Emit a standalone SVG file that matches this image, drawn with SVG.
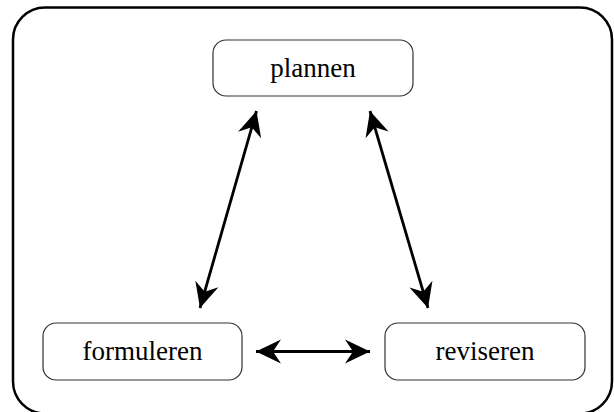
<svg xmlns="http://www.w3.org/2000/svg" width="614" height="412" viewBox="0 0 614 412">
<style>
.node rect{fill:#fff;stroke:#333;stroke-width:1.2}
.node text{font-family:"Liberation Serif","Times New Roman",serif;font-size:27px;fill:#000;text-anchor:middle}
.conn line{stroke:#000;stroke-width:2.8;marker-start:url(#ah);marker-end:url(#ah)}
</style>
<defs>
<marker id="ah" viewBox="-27 -13 29 26" refX="0" refY="0" markerWidth="29" markerHeight="26" markerUnits="userSpaceOnUse" orient="auto-start-reverse">
<path d="M0,0 L-25,-12 L-17,0 L-25,12 Z" fill="#000"/>
</marker>
</defs>
<rect id="frame" x="13" y="7.5" width="599" height="406" rx="32" ry="32" fill="none" stroke="#000" stroke-width="2.5"/>
<g id="plannen" class="node"><rect x="213" y="40" width="200" height="56" rx="13"/><text x="313" y="77">plannen</text></g>
<g id="formuleren" class="node"><rect x="43" y="323" width="199" height="57" rx="13"/><text x="142.5" y="360">formuleren</text></g>
<g id="reviseren" class="node"><rect x="385" y="323" width="200" height="57" rx="13"/><text x="485" y="360">reviseren</text></g>
<g id="connectors" class="conn">
<line x1="256.5" y1="111" x2="200" y2="308"/>
<line x1="370" y1="111" x2="428" y2="308"/>
<line x1="256" y1="351.5" x2="370" y2="351.5"/>
</g>
</svg>
